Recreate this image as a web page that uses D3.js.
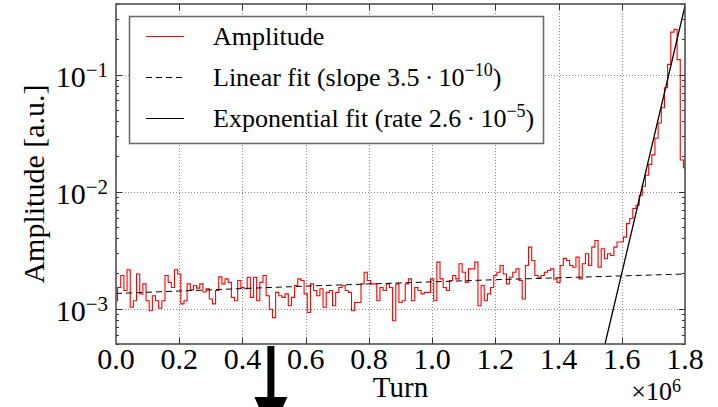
<!DOCTYPE html>
<html>
<head>
<meta charset="utf-8">
<script src="https://cdn.jsdelivr.net/npm/d3@7"></script>
<style>
  body { margin: 0; background: #fff; }
  svg { display: block; font-family: "Liberation Serif", "Times New Roman", serif; }
</style>
</head>
<body>
<div id="chart"></div>
<script>
// amplitude samples, one every 1e4 turns from 0 to 1.8e6 (units of 1e-3 a.u.)
const turnStep = 1e4;
const amplitude = [
  1.17,1.52,1.92,1.43,2.15,1.03,1.17,1.98,1.34,1.63,
  1.17,0.96,1.29,1.17,1.01,1.17,1.92,1.68,1.52,2.15,
  1.98,1.10,1.17,1.63,1.45,1.58,1.50,1.63,1.39,1.48,
  1.21,1.10,1.43,1.87,1.63,1.80,1.68,1.25,1.17,1.74,
  1.52,1.48,1.86,1.25,1.86,1.17,1.68,1.92,1.29,0.99,
  0.84,1.38,1.29,1.25,1.34,1.06,1.25,1.58,1.80,1.74,
  1.34,0.93,1.63,1.43,1.29,1.48,1.03,1.38,1.43,1.06,
  1.38,1.52,1.58,1.43,1.38,0.96,1.13,1.13,1.63,2.05,
  1.74,1.63,1.63,1.17,1.52,1.43,1.63,1.52,0.79,1.63,
  1.13,1.17,1.63,1.80,1.17,1.52,1.43,1.34,1.38,1.38,
  1.80,1.17,2.50,1.80,1.52,1.43,1.74,1.92,1.80,2.42,
  2.05,1.68,2.19,2.19,2.50,1.06,1.58,1.17,1.34,1.52,
  1.92,2.05,2.34,1.98,1.63,1.86,2.05,2.19,1.74,1.21,
  2.34,3.36,2.58,1.92,1.86,1.92,2.05,2.12,2.19,1.80,
  1.68,2.34,2.69,2.58,2.34,2.26,2.76,1.80,2.42,2.95,
  2.34,3.36,3.83,2.26,3.25,2.67,2.95,2.85,3.36,3.71,
  3.71,4.09,5.33,5.89,7.17,7.65,9.3,11.1,13.8,17.1,
  20.6,28.6,38.5,52,77,122,230,243,134,18.6,16
];

// fits
const linFitTurns = [0, 0.6e6, 1.2e6, 1.8e6];
const linFitAmp = [1.35e-3, 1.56e-3, 1.77e-3, 1.98e-3];
const expFitTurns = [1.547e6, 1.8e6];
const expFitAmp = [5e-4, 0.385];

const xTicks = [0, 0.2e6, 0.4e6, 0.6e6, 0.8e6, 1.0e6, 1.2e6, 1.4e6, 1.6e6, 1.8e6];
const yMajor = [1e-3, 1e-2, 1e-1];
const yExps = ["\u22123", "\u22122", "\u22121"];
const arrowTurn = 0.49e6;

const legendItems = [
  { label: "Amplitude", sup: "", tail: "", color: "red", dash: null, w: 1.1 },
  { label: "Linear fit (slope 3.5\u2009\u00b7\u200910", sup: "\u221210", tail: ")", color: "#000", dash: "6,4", w: 1 },
  { label: "Exponential fit (rate 2.6\u2009\u00b7\u200910", sup: "\u22125", tail: ")", color: "#000", dash: null, w: 1.2 }
];

const W = 718, H = 407;
const margin = { top: 4, right: 33, bottom: 63, left: 116 };

const x = d3.scaleLinear().domain([0, 1.8e6]).range([margin.left, W - margin.right]);
const y = d3.scaleLog().domain([5e-4, 0.4]).range([H - margin.bottom, margin.top]);

const svg = d3.select("#chart").append("svg")
    .attr("width", W).attr("height", H);

const x0 = x.range()[0], x1 = x.range()[1];
const yb = y.range()[0], yt = y.range()[1];

svg.append("clipPath").attr("id", "plot")
  .append("rect").attr("x", x0).attr("y", yt).attr("width", x1 - x0).attr("height", yb - yt);

// grid
const grid = svg.append("g").attr("stroke", "#888").attr("stroke-width", 1).attr("stroke-dasharray", "1,2");
grid.selectAll(".gx").data(xTicks.slice(1, -1)).join("line")
    .attr("x1", d => Math.round(x(d)) + 0.5).attr("x2", d => Math.round(x(d)) + 0.5)
    .attr("y1", yt).attr("y2", yb);
grid.selectAll(".gy").data(yMajor).join("line")
    .attr("x1", x0).attr("x2", x1)
    .attr("y1", d => Math.round(y(d)) + 0.5).attr("y2", d => Math.round(y(d)) + 0.5);

const plot = svg.append("g").attr("clip-path", "url(#plot)");

// amplitude trace
const ampData = amplitude.map((v, i) => ({ t: i * turnStep, v: v * 1e-3 }));
plot.append("path")
    .datum(ampData)
    .attr("fill", "none").attr("stroke", "red").attr("stroke-width", 1.1)
    .attr("d", d3.line().curve(d3.curveStep).x(d => x(d.t)).y(d => y(d.v)));

const fitLine = d3.line().x(d => x(d[0])).y(d => y(d[1]));
plot.append("path")
    .datum(d3.zip(linFitTurns, linFitAmp))
    .attr("fill", "none").attr("stroke", "#000").attr("stroke-width", 1)
    .attr("stroke-dasharray", "6,4")
    .attr("d", fitLine);
plot.append("path")
    .datum(d3.zip(expFitTurns, expFitAmp))
    .attr("fill", "none").attr("stroke", "#000").attr("stroke-width", 1.3)
    .attr("d", fitLine);

// ticks, inward on all four sides
const yAll = y.ticks().filter(d => d >= 5e-4 && d <= 0.4);
const isMajor = d => Math.abs(Math.log10(d) - Math.round(Math.log10(d))) < 1e-6;
const ticks = svg.append("g").attr("stroke", "#333").attr("stroke-width", 1);
xTicks.slice(1, -1).forEach(d => {
  const px = Math.round(x(d)) + 0.5;
  ticks.append("line").attr("x1", px).attr("x2", px).attr("y1", yb).attr("y2", yb - 6);
  ticks.append("line").attr("x1", px).attr("x2", px).attr("y1", yt).attr("y2", yt + 6);
});
yAll.forEach(d => {
  const py = Math.round(y(d)) + 0.5;
  const len = isMajor(d) ? 6 : 3;
  ticks.append("line").attr("x1", x0).attr("x2", x0 + len).attr("y1", py).attr("y2", py);
  ticks.append("line").attr("x1", x1).attr("x2", x1 - len).attr("y1", py).attr("y2", py);
});

// frame
svg.append("rect")
    .attr("x", x0).attr("y", yt).attr("width", x1 - x0).attr("height", yb - yt)
    .attr("fill", "none").attr("stroke", "#444").attr("stroke-width", 1.5);

// x tick labels
svg.append("g").selectAll("text").data(xTicks).join("text")
    .attr("x", d => x(d)).attr("y", 369)
    .attr("text-anchor", "middle").attr("font-size", 30)
    .text(d => (d / 1e6).toFixed(1));

// y tick labels
const yl = svg.append("g").selectAll("text").data(yMajor).join("text")
    .attr("x", 108).attr("y", d => y(d) + 12)
    .attr("text-anchor", "end").attr("font-size", 30);
yl.append("tspan").text("10");
yl.append("tspan").attr("dy", -10).attr("font-size", 21).text((d, i) => yExps[i]);

// axis labels
svg.append("text")
    .attr("x", (x0 + x1) / 2).attr("y", 397)
    .attr("text-anchor", "middle").attr("font-size", 29)
    .text("Turn");
const mult = svg.append("text")
    .attr("x", 681).attr("y", 400)
    .attr("text-anchor", "end").attr("font-size", 26);
mult.append("tspan").text("\u00d710");
mult.append("tspan").attr("dy", -8).attr("font-size", 18).text("6");

svg.append("text")
    .attr("transform", `translate(44,${(yt + yb) / 2 + 10}) rotate(-90)`)
    .attr("text-anchor", "middle").attr("font-size", 30)
    .text("Amplitude [a.u.]");

// legend
const lg = svg.append("g");
lg.append("rect")
    .attr("x", 129.5).attr("y", 16.5).attr("width", 414).attr("height", 127)
    .attr("fill", "#fff").attr("stroke", "#666").attr("stroke-width", 1.5);
legendItems.forEach((it, i) => {
  const cy = 36 + i * 41;
  lg.append("line")
      .attr("x1", 146).attr("x2", 184).attr("y1", cy + 0.5).attr("y2", cy + 0.5)
      .attr("stroke", it.color).attr("stroke-width", it.w)
      .attr("stroke-dasharray", it.dash);
  const t = lg.append("text").attr("x", 213).attr("y", cy + 9).attr("font-size", 26);
  t.append("tspan").text(it.label);
  if (it.sup) {
    t.append("tspan").attr("dy", -10).attr("font-size", 18).text(it.sup);
    t.append("tspan").attr("dy", 10).text(it.tail);
  }
});

// annotation arrow below the axis
const ax = x(arrowTurn);
svg.append("path")
    .attr("fill", "#000")
    .attr("d", `M${ax - 3.5},346 L${ax + 3.5},346 L${ax + 3.5},397 L${ax + 16.5},397 L${ax},434 L${ax - 16.5},397 L${ax - 3.5},397 Z`);
</script>
</body>
</html>
